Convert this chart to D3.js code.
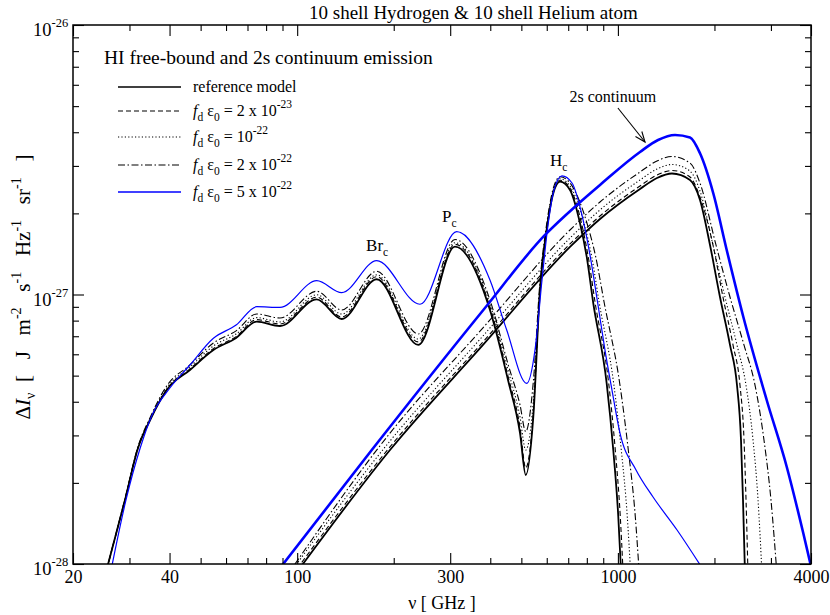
<!DOCTYPE html>
<html><head><meta charset="utf-8">
<script src="https://cdn.jsdelivr.net/npm/d3@7"></script>
<style>
body{margin:0;background:#fff}
svg{font-family:"Liberation Serif","Times New Roman",serif}
</style></head>
<body><svg id="c" width="830" height="615"></svg>
<script>
// ---------- DATA ----------
const xMajorTicks = [20, 40, 100, 300, 1000, 4000];
const xMinorTicks = [30, 50, 60, 70, 80, 90, 200, 400, 500, 600, 700, 800, 900, 2000, 3000];
const yMajorTicks = [1e-28, 1e-27, 1e-26];
const yMinorTicks = [2e-28,3e-28,4e-28,5e-28,6e-28,7e-28,8e-28,9e-28,2e-27,3e-27,4e-27,5e-27,6e-27,7e-27,8e-27,9e-27];
const yTickExponents = ["-28", "-27", "-26"];

const seriesLabels = ["reference model", "2 x 10", "10", "2 x 10", "5 x 10"];
const seriesExponents = ["", "-23", "-22", "-22", "-22"];

// free-bound (HI) emission, frequency in GHz, ΔI in J m^-2 s^-1 Hz^-1 sr^-1
const refFbNu = [25.2,29.05,31.9,34.8,39.2,46.3,54.8,64.5,74.8,88.4,115.1,137.7,177.0,238.6,310.5,399.1,454.3,495.2,515.9,544.8,571.6,599.8,628.9,659.8,708.9,761.8,799.3,838.0,922.6,967.3,1002.8,1022.4];
const refFbI  = [9.1e-29,1.728e-28,2.694e-28,3.422e-28,4.423e-28,5.247e-28,6.223e-28,6.90e-28,7.93e-28,7.64e-28,9.60e-28,8.11e-28,1.139e-27,6.50e-28,1.505e-27,8.76e-28,4.817e-28,3.062e-28,2.139e-28,3.52e-28,1.039e-27,1.735e-27,2.375e-27,2.621e-27,2.442e-27,1.838e-27,1.381e-27,9.28e-28,4.68e-28,2.649e-28,1.498e-28,9.5e-29];

const dashFbNu = [25.2,29.05,31.9,34.8,39.2,46.3,54.8,64.5,74.8,88.4,115.1,137.7,177.0,238.6,310.5,399.1,454.3,495.2,515.9,544.8,571.6,599.8,628.9,659.8,708.9,770.2,808.1,849.7,936.0,981.3,1017.3,1037.2];
const dashFbI  = [9.1e-29,1.73e-28,2.70e-28,3.43e-28,4.45e-28,5.29e-28,6.30e-28,6.98e-28,8.07e-28,7.77e-28,9.77e-28,8.25e-28,1.164e-27,6.67e-28,1.535e-27,8.99e-28,4.98e-28,3.22e-28,2.27e-28,3.64e-28,1.05e-27,1.75e-27,2.40e-27,2.655e-27,2.484e-27,1.838e-27,1.381e-27,9.28e-28,4.68e-28,2.649e-28,1.498e-28,9.5e-29];

const dotFbNu = [25.2,29.05,31.9,34.8,39.2,46.3,54.8,64.5,74.8,88.4,115.1,137.7,177.0,238.6,310.5,399.1,454.3,495.2,515.9,544.8,571.6,599.8,628.9,659.8,708.9,784.0,828.6,875.0,970.1,1024.5,1069.7,1094.6];
const dotFbI  = [9.1e-29,1.74e-28,2.71e-28,3.46e-28,4.50e-28,5.38e-28,6.44e-28,7.14e-28,8.21e-28,7.91e-28,9.98e-28,8.46e-28,1.183e-27,6.84e-28,1.557e-27,9.22e-28,5.25e-28,3.51e-28,2.65e-28,4.0e-28,1.08e-27,1.78e-27,2.44e-27,2.689e-27,2.527e-27,1.838e-27,1.381e-27,9.28e-28,4.68e-28,2.649e-28,1.498e-28,9.5e-29];

const ddFbNu = [25.2,29.05,31.9,34.8,39.2,46.3,54.8,64.5,74.8,88.4,115.1,137.7,177.0,238.6,310.5,399.1,454.3,495.2,515.9,544.8,571.6,599.8,628.9,659.8,708.9,801.0,852.6,907.0,1013.0,1077.5,1133.1,1163.7];
const ddFbI  = [9.1e-29,1.75e-28,2.73e-28,3.50e-28,4.58e-28,5.48e-28,6.61e-28,7.33e-28,8.47e-28,8.18e-28,1.028e-27,8.76e-28,1.22e-27,7.14e-28,1.60e-27,9.54e-28,5.52e-28,3.89e-28,3.10e-28,4.74e-28,1.12e-27,1.83e-27,2.48e-27,2.736e-27,2.593e-27,1.838e-27,1.381e-27,9.28e-28,4.68e-28,2.649e-28,1.498e-28,9.5e-29];

const blueFbNu = [26.1,29.26,32.4,35.3,40.1,46.3,54.8,64.5,74.8,88.4,115.1,137.7,177.0,241.5,314.3,399.1,450.1,519.6,551.4,579.9,605.4,632.1,669.3,719.2,772.7,818.5,866.9,911.4,958.4,1015,1139,1287,1529,1869];
const blueFbI  = [9.1e-29,1.728e-28,2.694e-28,3.572e-28,4.499e-28,5.476e-28,6.88e-28,7.70e-28,9.01e-28,8.96e-28,1.125e-27,1.016e-27,1.335e-27,9.20e-28,1.710e-27,1.132e-27,7.38e-28,4.68e-28,6.22e-28,1.132e-27,1.811e-27,2.442e-27,2.753e-27,2.593e-27,1.972e-27,1.401e-27,9.14e-28,6.22e-28,4.42e-28,3.06e-28,2.233e-28,1.772e-28,1.337e-28,9.3e-29];

// 2s two-photon continuum
const ref2sNu = [99.9,194.7,379.6,708.9,879.4,1172,1324,1474.5,1678,1803,1937,2081,2236,2351,2420,2455,2491];
const ref2sI  = [9.34e-29,2.649e-28,6.50e-28,1.501e-27,1.906e-27,2.463e-27,2.706e-27,2.812e-27,2.66e-27,2.242e-27,1.527e-27,9.79e-28,6.50e-28,4.614e-28,2.885e-28,1.728e-28,9.1e-29];

const dash2sNu = [99.9,194.7,379.6,708.9,879.4,1172,1324,1474.5,1678,1803,1979,2126,2285,2402,2473,2509,2545];
const dash2sI  = [9.6e-29,2.72e-28,6.67e-28,1.54e-27,1.956e-27,2.527e-27,2.776e-27,2.885e-27,2.73e-27,2.30e-27,1.527e-27,9.79e-28,6.50e-28,4.614e-28,2.885e-28,1.728e-28,9.1e-29];

const dot2sNu = [95,194.7,379.6,708.9,879.4,1172,1324,1474.5,1678,1803,1979,2157,2351,2508,2638,2735,2815];
const dot2sI  = [9.25e-29,2.86e-28,7.02e-28,1.62e-27,2.06e-27,2.66e-27,2.922e-27,3.037e-27,2.87e-27,2.42e-27,1.527e-27,9.79e-28,6.50e-28,4.614e-28,2.885e-28,1.728e-28,9.1e-29];

const dd2sNu = [93,194.7,379.6,708.9,879.4,1172,1324,1474.5,1678,1803,2022,2236,2472,2676,2854,3001,3134];
const dd2sI  = [9.06e-29,3.06e-28,7.52e-28,1.735e-27,2.204e-27,2.848e-27,3.129e-27,3.251e-27,3.076e-27,2.59e-27,1.527e-27,9.79e-28,6.50e-28,4.614e-28,2.885e-28,1.728e-28,9.1e-29];

const blue2sNu = [86.5,170.8,380.5,592.5,751,879.4,1172,1334,1507,1678,1803,1983,2184,2460,2910,3360,3785,4050];
const blue2sI  = [9.34e-29,2.649e-28,8.76e-28,1.663e-27,2.167e-27,2.55e-27,3.379e-27,3.743e-27,3.906e-27,3.824e-27,3.341e-27,2.375e-27,1.463e-27,8.27e-28,4.06e-28,2.296e-28,1.300e-28,9.2e-29];

// annotation anchors (data coords: GHz, intensity)
const annBr = [164, 1.45e-27];
const annP  = [283, 1.863e-27];
const annH  = [614, 3.0e-27];
const ann2s = [706, 5.18e-27];
const arrowFrom = [1000, 4.92e-27];
const arrowTo   = [1215, 3.68e-27];

// ---------- CHART ----------
const L=73, R=811, T=25, B=564;
const svg = d3.select("#c");
const x = d3.scaleLog().domain([20,4000]).range([L,R]);
const y = d3.scaleLog().domain([1e-28,1e-26]).range([B,T]);

svg.append("defs").append("clipPath").attr("id","pc")
  .append("rect").attr("x",L).attr("y",T).attr("width",R-L).attr("height",B-T);

const styles = [
  {color:"#000", w:1.8, dash:null},
  {color:"#000", w:1.1, dash:"5,3"},
  {color:"#000", w:1.1, dash:"1.2,2.2"},
  {color:"#000", w:1.1, dash:"7,2.5,1.5,2.5"},
  {color:"#0000ff", w:1.2, dash:null}
];
const fbData = [[refFbNu,refFbI],[dashFbNu,dashFbI],[dotFbNu,dotFbI],[ddFbNu,ddFbI],[blueFbNu,blueFbI]];
const s2Data = [[ref2sNu,ref2sI],[dash2sNu,dash2sI],[dot2sNu,dot2sI],[dd2sNu,dd2sI],[blue2sNu,blue2sI]];

const line = d3.line().x(d=>x(d[0])).y(d=>y(d[1])).curve(d3.curveMonotoneX);
const plot = svg.append("g").attr("clip-path","url(#pc)");
[0,1,2,3,4].forEach(i=>{
  const st = styles[i];
  plot.append("path").attr("d", line(d3.zip(fbData[i][0], fbData[i][1])))
    .attr("fill","none").attr("stroke",st.color).attr("stroke-width",st.w)
    .attr("stroke-dasharray",st.dash).attr("stroke-linejoin","round");
  plot.append("path").attr("d", line(d3.zip(s2Data[i][0], s2Data[i][1])))
    .attr("fill","none").attr("stroke",st.color).attr("stroke-width", i===4 ? 2.6 : st.w)
    .attr("stroke-dasharray",st.dash).attr("stroke-linejoin","round");
});

// axes (inward ticks on all four sides)
function styleAxis(g){ g.select(".domain").remove(); g.selectAll("line").attr("stroke","#000").attr("stroke-width",1.1); }
svg.append("g").attr("transform",`translate(0,${B})`)
  .call(d3.axisBottom(x).tickValues(xMajorTicks).tickSize(-11).tickPadding(6).tickFormat(d3.format("d")))
  .call(styleAxis).selectAll("text").attr("font-size",18).attr("font-family","Liberation Serif").attr("fill","#000");
svg.append("g").attr("transform",`translate(0,${B})`)
  .call(d3.axisBottom(x).tickValues(xMinorTicks).tickSize(-6).tickFormat("")).call(styleAxis);
svg.append("g").attr("transform",`translate(0,${T})`)
  .call(d3.axisTop(x).tickValues(xMajorTicks).tickSize(-11).tickFormat("")).call(styleAxis);
svg.append("g").attr("transform",`translate(0,${T})`)
  .call(d3.axisTop(x).tickValues(xMinorTicks).tickSize(-6).tickFormat("")).call(styleAxis);
svg.append("g").attr("transform",`translate(${L},0)`)
  .call(d3.axisLeft(y).tickValues(yMajorTicks).tickSize(-11).tickFormat("")).call(styleAxis);
svg.append("g").attr("transform",`translate(${L},0)`)
  .call(d3.axisLeft(y).tickValues(yMinorTicks).tickSize(-6).tickFormat("")).call(styleAxis);
svg.append("g").attr("transform",`translate(${R},0)`)
  .call(d3.axisRight(y).tickValues(yMajorTicks).tickSize(-11).tickFormat("")).call(styleAxis);
svg.append("g").attr("transform",`translate(${R},0)`)
  .call(d3.axisRight(y).tickValues(yMinorTicks).tickSize(-6).tickFormat("")).call(styleAxis);

svg.append("rect").attr("x",L).attr("y",T).attr("width",R-L).attr("height",B-T)
  .attr("fill","none").attr("stroke","#000").attr("stroke-width",1.5);

// y tick labels 10^n
yMajorTicks.forEach((v,i)=>{
  const t = svg.append("text").attr("x",33).attr("y",y(v)+11).attr("font-size",18.5).attr("fill","#000");
  t.append("tspan").text("10");
  t.append("tspan").attr("font-size",12.5).attr("dy",-9).text(yTickExponents[i]);
});

// title
svg.append("text").attr("x",309).attr("y",19).attr("font-size",19).text("10 shell Hydrogen & 10 shell Helium atom");

// x axis title
svg.append("text").attr("x",(L+R)/2).attr("y",609).attr("text-anchor","middle").attr("font-size",18).text("ν [ GHz ]");

// y axis title
const yt = svg.append("text").attr("transform","translate(30,287) rotate(-90)")
  .attr("text-anchor","middle").attr("font-size",21).attr("xml:space","preserve");
yt.append("tspan").text("Δ");
yt.append("tspan").attr("font-style","italic").text("I");
yt.append("tspan").attr("font-size",14).attr("dy",5).text("ν");
yt.append("tspan").attr("dy",-5).text("  [   J   m");
yt.append("tspan").attr("font-size",14).attr("dy",-9).text("-2");
yt.append("tspan").attr("dy",9).text("   s");
yt.append("tspan").attr("font-size",14).attr("dy",-9).text("-1");
yt.append("tspan").attr("dy",9).text("   Hz");
yt.append("tspan").attr("font-size",14).attr("dy",-9).text("-1");
yt.append("tspan").attr("dy",9).text("   sr");
yt.append("tspan").attr("font-size",14).attr("dy",-9).text("-1");
yt.append("tspan").attr("dy",9).text("   ]");

// legend
svg.append("text").attr("x",104).attr("y",64).attr("font-size",19.5).text("HI free-bound and 2s continuum emission");
const legY = [87, 111, 137, 165, 192];
legY.forEach((ly,i)=>{
  const st = styles[i];
  svg.append("line").attr("x1",118).attr("x2",181).attr("y1",ly).attr("y2",ly)
    .attr("stroke",st.color).attr("stroke-width", i===4?1.6:(i===0?1.4:1.1)).attr("stroke-dasharray",st.dash);
  const t = svg.append("text").attr("x",193).attr("y",ly+5).attr("font-size",16);
  if(i===0){ t.text(seriesLabels[0]); return; }
  t.append("tspan").attr("font-style","italic").text("f");
  t.append("tspan").attr("font-size",11.5).attr("dy",5).text("d");
  t.append("tspan").attr("dy",-5).text(" ε");
  t.append("tspan").attr("font-size",11.5).attr("dy",5).text("0");
  t.append("tspan").attr("dy",-5).text(" = " + seriesLabels[i]);
  t.append("tspan").attr("font-size",11.5).attr("dy",-8).text(seriesExponents[i]);
});

// annotations
function subLabel(pos, main, sub){
  const t = svg.append("text").attr("x",x(pos[0])).attr("y",y(pos[1])).attr("font-size",17);
  t.append("tspan").text(main);
  t.append("tspan").attr("font-size",11.5).attr("dy",5).text(sub);
}
subLabel(annBr,"Br","c");
subLabel(annP,"P","c");
subLabel(annH,"H","c");
svg.append("text").attr("x",x(ann2s[0])).attr("y",y(ann2s[1])).attr("font-size",16).text("2s continuum");

const ax1=x(arrowFrom[0]), ay1=y(arrowFrom[1]), ax2=x(arrowTo[0]), ay2=y(arrowTo[1]);
svg.append("line").attr("x1",ax1).attr("y1",ay1).attr("x2",ax2).attr("y2",ay2).attr("stroke","#000").attr("stroke-width",1.1);
const ang = Math.atan2(ay2-ay1, ax2-ax1), hl=11, ha=0.38;
svg.append("path").attr("d",`M${ax2-hl*Math.cos(ang-ha)},${ay2-hl*Math.sin(ang-ha)} L${ax2},${ay2} L${ax2-hl*Math.cos(ang+ha)},${ay2-hl*Math.sin(ang+ha)}`)
  .attr("fill","none").attr("stroke","#000").attr("stroke-width",1.1);
</script>
</body></html>
